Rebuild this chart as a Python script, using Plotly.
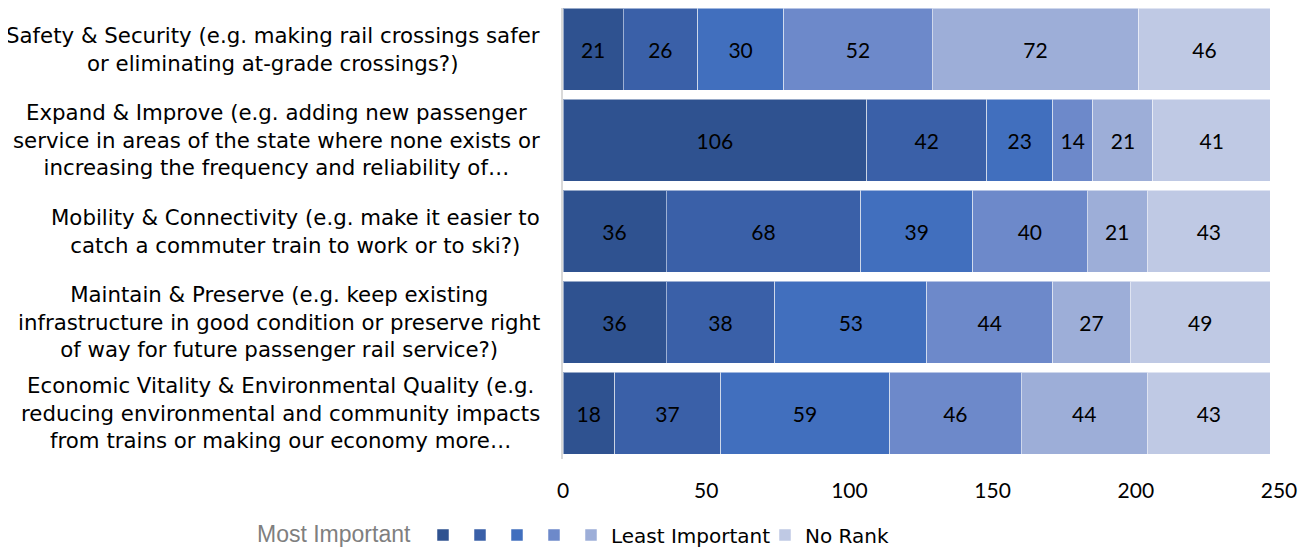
import plotly.graph_objects as go

categories = [
    "Safety & Security (e.g. making rail crossings safer<br>or eliminating at-grade crossings?)",
    "Expand & Improve (e.g. adding new passenger<br>service in areas of the state where none exists or<br>increasing the frequency and reliability of…",
    "Mobility & Connectivity (e.g. make it easier to<br>catch a commuter train to work or to ski?)",
    "Maintain & Preserve (e.g. keep existing<br>infrastructure in good condition or preserve right<br>of way for future passenger rail service?)",
    "Economic Vitality & Environmental Quality (e.g.<br>reducing environmental and community impacts<br>from trains or making our economy more…",
]
cat_ids = ["c1", "c2", "c3", "c4", "c5"]

rank1 = [21, 106, 36, 36, 18]
rank2 = [26, 42, 68, 38, 37]
rank3 = [30, 23, 39, 53, 59]
rank4 = [52, 14, 40, 44, 46]
rank5 = [72, 21, 21, 27, 44]
no_rank = [46, 41, 43, 49, 43]

series = [rank1, rank2, rank3, rank4, rank5, no_rank]
names = ["\u200b", "\u200b\u200b", "\u200b\u200b\u200b", "\u200b\u200b\u200b\u200b",
         "Least Important", "No Rank"]
colors = ["#2F5290", "#3A60A8", "#416FBE", "#6D89CA", "#9DAED8", "#BFC9E4"]

# one small legend per swatch so the squares can sit as close as in the original
legend_ids = ["legend", "legend2", "legend3", "legend4", "legend5", "legend6"]
legend_x = [415, 452, 489, 526, 563, 757]

W, H = 1301, 542
L, R, T, B = 555, 30, 0, 90.5
plot_w, plot_h = W - L - R, H - T - B

fig = go.Figure()
for vals, name, col, lg in zip(series, names, colors, legend_ids):
    fig.add_trace(go.Bar(
        y=cat_ids, x=vals, orientation="h", name=name,
        marker=dict(color=col, line=dict(color="rgba(255,255,255,0.5)", width=1)),
        text=vals, textposition="inside", insidetextanchor="middle",
        textfont=dict(color="black", size=21, family="Lato"),
        legend=lg, showlegend=True,
    ))

for cid, label in zip(cat_ids, categories):
    fig.add_annotation(
        x=0, xref="paper", y=cid, yref="y", xanchor="right", xshift=-21,
        text=label, showarrow=False, align="center",
        font=dict(family="DejaVu Sans", size=21.3, color="black"),
    )

# grey "Most Important" caption in front of the legend swatches
fig.add_annotation(
    x=(247 - L) / plot_w, xref="paper", y=(15 - B) / plot_h, yref="paper",
    xanchor="left", yanchor="middle", showarrow=False, text="Most Important",
    font=dict(family="Liberation Sans", size=23, color="#7F7F7F"),
)

layout_legends = {}
for lg, lx in zip(legend_ids, legend_x):
    layout_legends[lg] = dict(
        orientation="h", xref="container", x=lx / W, xanchor="left",
        yref="container", y=0.0277, yanchor="middle",
        font=dict(family="DejaVu Sans", size=20, color="black"),
        itemwidth=30, bgcolor="rgba(0,0,0,0)",
    )

fig.update_layout(
    width=W, height=H, showlegend=True,
    barmode="stack", bargap=0.1,
    plot_bgcolor="white", paper_bgcolor="white",
    margin=dict(l=L, r=R, t=T, b=B, autoexpand=False),
    uniformtext=dict(minsize=10, mode="show"),
    **layout_legends,
)
fig.update_xaxes(
    range=[0, 250], dtick=50, showgrid=False, zeroline=False,
    tickfont=dict(family="Lato", size=21, color="black"),
    ticklabelstandoff=17,
)
fig.update_yaxes(
    range=[4.5, -0.45], showticklabels=False, showgrid=False,
    showline=True, linecolor="#D9D9D9", linewidth=2,
)

fig.write_html("out.html")
